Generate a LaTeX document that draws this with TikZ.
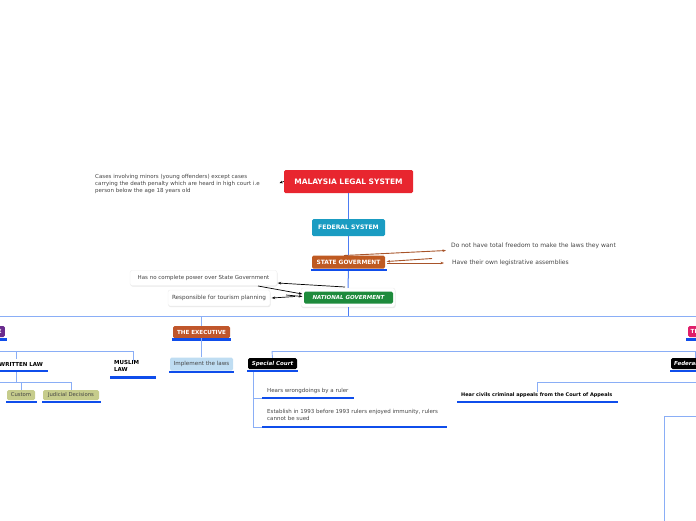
\documentclass[tikz,border=0pt]{standalone}
\usepackage{fontspec}
\setmainfont{DejaVu Sans}
\usetikzlibrary{arrows.meta,shadows,calc}
\definecolor{cRed}{HTML}{E8262F}
\definecolor{cTeal}{HTML}{1A9CC2}
\definecolor{cState}{HTML}{BF5A22}
\definecolor{cGreen}{HTML}{1E8B3C}
\definecolor{cExec}{HTML}{C0562B}
\definecolor{cPurple}{HTML}{6A2C8E}
\definecolor{cPink}{HTML}{E01E6A}
\definecolor{cOlive}{HTML}{C6CC8C}
\definecolor{cLBlue}{HTML}{BFDDF2}
\definecolor{cBar}{HTML}{0F4DEB}
\definecolor{cSpine}{HTML}{4C7CF3}
\definecolor{cLink}{HTML}{8AAEF6}
\definecolor{cNote}{HTML}{444444}
\definecolor{cBrown}{HTML}{A8542A}
\begin{document}
\begin{tikzpicture}[x=1pt,y=-1pt,
  box/.style={rounded corners=1.5pt, text=white, inner sep=0pt, align=center,
    font=\bfseries\fontsize{5.6}{7}\selectfont},
  ibox/.style={box, font=\bfseries\itshape\fontsize{5.5}{7}\selectfont},
  lbox/.style={rounded corners=1.5pt, text=cNote, inner sep=0pt, align=center,
    font=\fontsize{5.3}{6.5}\selectfont},
  notebox/.style={rounded corners=2pt, fill=white, draw=black!7, line width=0.4pt,
    inner sep=0pt, text=cNote, font=\fontsize{5.5}{7}\selectfont,
    drop shadow={opacity=0.18, shadow xshift=0.5pt, shadow yshift=-1pt}},
  note/.style={inner sep=0pt, text=cNote, align=left, font=\fontsize{5.5}{7}\selectfont},
  btxt/.style={inner sep=0pt, text=black, align=left, font=\bfseries\fontsize{5.5}{7}\selectfont},
  bar/.style={draw=cBar, line width=2.2pt},
  link/.style={draw=cLink, line width=0.9pt},
  spine/.style={draw=cSpine, line width=1pt},
  brarr/.style={draw=cBrown, line width=0.9pt, -{Stealth[length=3.5pt,width=2.6pt]}},
  blarr/.style={draw=black, line width=0.7pt, -{Stealth[length=3.5pt,width=2.6pt]}}
]
\clip (0,0) rectangle (696,520);
\useasboundingbox (0,0) rectangle (696,520);

% ---------- top nodes ----------
\node[box, fill=cRed, minimum width=129pt, minimum height=23pt,
  font=\bfseries\fontsize{7.5}{9}\selectfont] (mls) at (348.5,181.5) {MALAYSIA LEGAL SYSTEM};
\node[box, fill=cTeal, minimum width=73pt, minimum height=17pt,
  font=\bfseries\fontsize{6.1}{7}\selectfont] (fed) at (348.5,227.5) {FEDERAL SYSTEM};
\node[box, fill=cState, minimum width=73pt, minimum height=13pt,
  font=\bfseries\fontsize{5.9}{7}\selectfont] (state) at (348.5,262) {STATE GOVERMENT};
\node[notebox, minimum width=94pt, minimum height=19pt] (natw) at (348,297.5) {};
\node[ibox, fill=cGreen, minimum width=89pt, minimum height=12pt] (nat) at (348.5,297.5) {NATIONAL GOVERMENT};

\node[note, anchor=north west, font=\fontsize{5.5}{6.8}\selectfont] (cases) at (95,174.6)
  {Cases involving minors (young offenders) except cases\\carrying the death penalty which are heard in high court i.e\\person below the age 18 years old};
\node[note, anchor=west, font=\fontsize{6}{7}\selectfont] (dn) at (451,246) {Do not have total freedom to make the laws they want};
\node[note, anchor=west, font=\fontsize{6}{7}\selectfont] (ho) at (452,263) {Have their own legistrative assemblies};
\node[notebox, minimum width=147pt, minimum height=15pt] (hn) at (203.5,278) {Has no complete power over State Government};
\node[notebox, minimum width=102pt, minimum height=16pt, font=\fontsize{5.7}{7}\selectfont] (rt) at (219,298) {Responsible for tourism planning};

% spine
\coordinate (h1) at (348,316);
\draw[spine] (mls.south) -- (fed.north);
\draw[spine] (fed.south) -- (state.north);
\draw[spine] (state.south) -- (natw.north);
\draw[spine] (natw.south) -- (h1);
\draw[bar] (311,270) -- (387,270);

% small arrow left of title
\coordinate (cdot) at (279.5,183);
\draw[line width=0.7pt, -{Stealth[length=3pt,width=2.6pt]}] (mls.west) -- (cdot);

% brown arrows from state government
\coordinate (s1) at (344,255.5);
\coordinate (s2) at (432,258.5);
\coordinate (s3) at (387,263);
\draw[brarr] (s1) -- ($(dn.west)+(-5,4.5)$);
\draw[brarr] (s2) -- ($(state.east)+(1.5,-0.5)$);
\draw[brarr] (s3) -- ($(ho.west)+(-8,0)$);

% black arrows near national government
\coordinate (n1) at (345,287);
\coordinate (n2) at (258,286);
\coordinate (n3) at (286,295);
\coordinate (n4) at (295,296.5);
\draw[blarr] (n1) -- ($(hn.east)+(0.5,5)$);
\draw[blarr] (n2) -- ($(nat.west)+(-1.5,-3.5)$);
\draw[blarr] (n3) -- ($(nat.west)+(-1.5,-1)$);
\draw[blarr] (n4) -- ($(rt.east)+(1.5,0)$);

% ---------- level 1 ----------
\draw[link] (0,316) -- (696,316);
\node[box, fill=cPurple, anchor=east, minimum height=11pt, inner xsep=3pt] (leg) at (5,331.5) {THE LEGISLATURE};
\draw[bar] (-2,339.5) -- (7,339.5);
\node[box, fill=cExec, minimum width=57pt, minimum height=12pt] (exec) at (201.5,332) {THE EXECUTIVE};
\draw[link] (exec.north |- h1) -- (exec.north);
\draw[bar] (172,339.5) -- (231,339.5);
\node[box, fill=cPink, anchor=west, minimum height=11pt, inner xsep=2.5pt] (jud) at (688,331.5) {THE JUDICIARY};
\draw[bar] (686,339.5) -- (700,339.5);

% ---------- left branch ----------
\draw[link] (0,351) -- (133,351);
\node[btxt, anchor=west] (wl) at (-1,364.5) {WRITTEN LAW};
\draw[link] (16,351) -- (16,359);
\draw[bar] (-2,371) -- (48,371);
\node[btxt, anchor=north west] (ml) at (114,360.5) {MUSLIM\\LAW};
\draw[link] (133,351) -- (ml.north -| 133,0);
\draw[bar] (110,377.5) -- (156,377.5);

\node[lbox, fill=cOlive, minimum width=28pt, minimum height=10pt] (cust) at (21,395) {Custom};
\node[lbox, fill=cOlive, minimum width=56pt, minimum height=10pt] (jd) at (71,395) {Judicial Decisions};
\coordinate (wlb) at (16,372);
\draw[link] (wlb) -- (16,382);
\draw[link] (0,382) -- (71,382);
\draw[link] (21,382) -- (cust.north);
\draw[link] (71,382) -- (jd.north);
\draw[bar] (6,402) -- (37,402);
\draw[bar] (42,402) -- (101,402);

% ---------- executive child ----------
\node[lbox, fill=cLBlue, minimum width=63pt, minimum height=13pt,
  font=\fontsize{5.6}{7}\selectfont] (impl) at (201.5,364) {Implement the laws};
\draw[link] (exec.south) -- (impl.north);
\draw[bar] (169,372) -- (234,372);

% ---------- judiciary branch ----------
\draw[link] (272,351) -- (700,351);
\node[ibox, fill=black, minimum width=49pt, minimum height=11pt] (sc) at (272.5,363.5) {Special Court};
\draw[link] (272,351) -- (sc.north);
\draw[bar] (247,371) -- (298,371);
\coordinate (scb) at (253,372);
\draw[link] (scb) -- (253,427) -- (262,427);
\draw[link] (253,398) -- (262,398);
\node[note, anchor=west, font=\fontsize{5.5}{7}\selectfont] (hw) at (267,391) {Hears wrongdoings by a ruler};
\draw[bar] (262,398) -- (354,398);
\node[note, anchor=north west, font=\fontsize{5.5}{7.4}\selectfont] (est) at (267,409)
  {Establish in 1993 before 1993 rulers enjoyed immunity, rulers\\cannot be sued};
\draw[bar] (262,427) -- (447,427);

\node[ibox, fill=black, anchor=west, minimum height=11pt, inner xsep=3pt] (fc) at (671,363.5) {Federal Court};
\draw[link] (695,351) -- (695,358);
\draw[bar] (670,371) -- (700,371);
\node[btxt, anchor=west, font=\bfseries\fontsize{4.95}{6}\selectfont] (hc) at (461,395) {Hear civils criminal appeals from the Court of Appeals};
\draw[link] (hc.north -| 537,0) -- (537,382) -- (700,382);
\draw[bar] (457,402) -- (618,402);

\draw[link] (700,416) -- (664,416) -- (664,522);
\end{tikzpicture}
\end{document}
